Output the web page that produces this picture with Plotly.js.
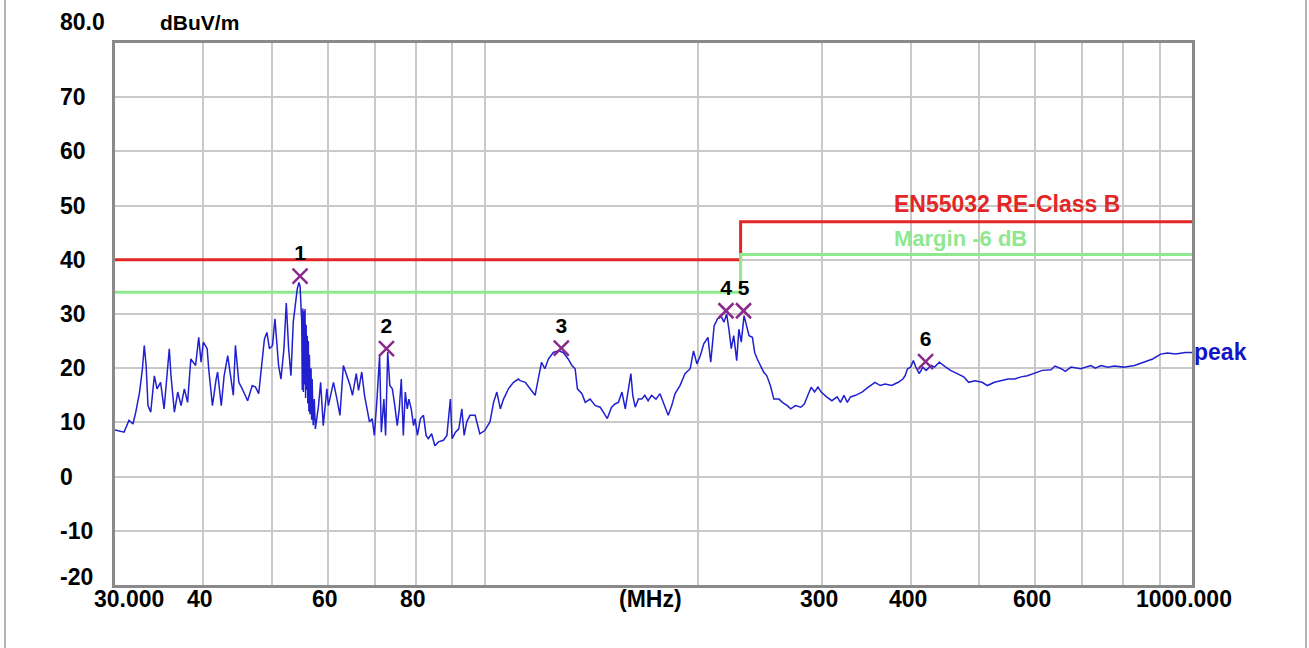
<!DOCTYPE html>
<html><head><meta charset="utf-8">
<script src="https://cdn.plot.ly/plotly-3.0.1.min.js"></script>
<style>html,body{margin:0;padding:0;background:#fff;}#chart{width:1309px;height:648px;}</style>
</head><body><div id="chart"></div>
<script>
// ---- data ----
const freqMHz = [30.0,30.2,30.9,31.4,31.8,32.1,32.5,32.8,33.0,33.2,33.4,33.7,34.1,34.4,34.8,35.2,35.5,35.8,36.0,36.4,36.8,37.2,37.6,38.0,38.4,39.0,39.4,39.7,40.0,40.5,40.7,41.2,41.7,41.9,42.4,42.8,43.3,43.8,44.1,44.4,44.9,45.4,46.2,46.9,47.4,47.9,48.4,48.8,49.2,49.6,50.1,50.5,51.1,51.5,52.0,52.4,52.8,53.2,53.6,54.0,54.3,54.6,54.8,
55.1,55.2,55.3,55.4,55.5,55.6,55.7,55.8,55.9,56.0,56.1,56.2,56.3,56.4,56.5,56.6,56.8,56.9,57.0,57.2,57.4,57.6,58.2,58.6,59.1,59.8,
60.1,60.8,61.1,61.8,62.4,63.1,63.8,64.5,65.0,65.8,66.3,67.0,67.6,68.2,68.7,69.3,69.8,70.4,71.0,71.4,72.0,72.4,72.9,73.4,74.0,74.5,75.2,75.7,76.2,76.7,77.2,77.7,78.1,78.7,79.3,79.7,80.3,81.1,81.9,82.6,83.2,84.1,85.0,86.0,87.4,88.4,89.4,89.9,90.9,91.9,92.8,93.5,94.3,95.3,96.9,98.4,100.0,101.7,102.9,104.0,105.2,106.3,108.0,109.8,111.6,
112.2,114.1,115.9,117.8,119.0,120.3,121.6,123.0,125.0,127.1,129.1,131.2,132.8,134.2,135.2,137.2,138.7,140.9,143.3,145.6,147.1,149.0,151.1,152.8,154.5,156.3,158.0,159.6,160.9,161.9,163.2,164.9,166.7,168.4,170.2,172.1,174.6,176.9,179.7,181.7,183.8,185.8,188.8,191.9,195.2,197.3,199.5,201.7,204.0,206.8,208.7,211.0,213.3,
215.6,217.9,219.8,221.4,223.1,224.9,227.1,228.7,230.5,232.6,234.6,236.4,239.0,240.8,242.8,245.4,247.9,250.5,253.4,256.3,260.6,263.5,267.8,270.7,275.0,279.8,283.0,286.3,289.4,292.6,295.9,299.0,304.3,309.6,314.9,318.4,322.0,325.5,329.0,334.4,341.5,348.6,356.3,362.3,368.2,376.2,384.2,390.1,392.9,396.1,400.0,403.7,406.9,411.5,416.2,420.8,427.8,432.4,439.3,
448.6,455.5,465.6,475.6,483.2,493.3,504.8,513.8,525.5,537.5,549.5,561.3,573.2,585.2,597.0,614.3,631.9,640.0,653.2,662.0,674.5,695.7,719.5,730.0,743.9,760.2,776.3,800.7,829.0,856.9,880.0,903.0,923.0,948.0,979.0,1000.0];
const peakLevel = [8.6,8.5,8.2,10.4,9.7,11.9,15.6,19.9,24.2,20.5,13.1,11.9,18.6,16.2,17.4,12.5,17.4,23.6,18.6,11.9,15.6,13.1,16.2,13.7,21.7,20.5,25.7,21.1,24.8,23.6,19.9,13.1,18.0,19.3,13.1,18.6,22.3,17.4,15.0,24.2,17.4,16.2,14.0,16.8,16.5,15.3,20.5,25.4,26.6,23.6,24.2,29.1,20.5,18.0,23.6,32.0,23.6,18.6,28.5,32.8,34.6,35.8,35.2,
28.5,16.0,31.0,15.6,30.5,17.0,30.9,14.5,28.0,16.0,26.0,13.5,25.0,12.0,22.5,11.5,20.0,10.5,18.0,9.5,14.3,8.8,13.1,17.4,9.4,16.2,
13.1,16.2,17.4,14.3,11.3,20.5,18.6,16.8,15.0,19.0,15.9,19.3,15.0,11.9,10.1,10.7,7.6,14.3,22.3,8.2,14.3,7.6,23.0,16.8,16.2,13.7,9.4,12.5,18.0,7.6,15.6,12.5,14.3,12.5,9.4,10.7,7.6,10.7,11.3,7.6,7.0,7.9,5.7,6.4,6.7,7.6,14.3,7.0,8.2,8.8,12.5,7.6,10.1,11.3,11.3,7.9,8.5,10.1,13.7,15.6,12.5,14.3,16.2,17.4,18.0,
17.7,17.4,16.2,15.0,18.0,21.1,19.9,21.7,22.9,23.2,22.9,21.7,20.5,19.9,16.2,15.3,13.7,14.3,13.1,12.8,11.9,10.7,12.8,13.4,13.7,15.6,12.5,16.2,19.0,15.0,12.8,14.3,14.3,15.0,14.0,15.0,14.3,15.3,13.1,11.3,13.1,15.3,16.8,19.0,19.9,23.2,20.8,22.3,24.5,25.7,21.1,27.8,29.1,
29.7,28.5,30.0,27.2,23.6,26.0,21.4,27.2,24.8,29.7,27.8,26.0,25.7,22.9,21.7,20.5,19.3,18.6,16.8,14.3,14.3,13.7,13.1,12.5,13.1,12.8,13.4,15.0,16.5,15.6,16.5,15.6,14.7,14.0,14.7,13.7,15.0,13.7,14.7,15.0,15.6,16.5,17.4,16.8,17.1,16.8,17.4,18.0,18.6,19.9,20.2,21.4,20.2,19.0,20.2,19.6,20.5,20.2,21.1,
20.2,19.6,19.0,18.4,17.4,17.7,17.4,16.8,17.4,17.7,18.0,18.0,18.4,18.6,19.0,19.6,19.7,20.4,19.9,19.4,20.2,19.9,20.5,20.0,20.5,20.2,20.4,20.2,20.5,21.1,21.7,22.6,22.8,22.6,22.9,22.9];

const limitFreq   = [30, 230, 230, 1000];
const limitLevel  = [40, 40, 47, 47];
const marginLevel = [34, 34, 41, 41];

const markerFreq  = [54.8, 72.6, 128.3, 219.3, 232.2, 420.0];
const markerLevel = [37.0, 23.6, 23.7, 30.6, 30.6, 21.2];
const markerLabel = ['1', '2', '3', '4', '5', '6'];

const yTickVals = [80, 70, 60, 50, 40, 30, 20, 10, 0, -10, -20];
const yTickText = ['80.0', '70', '60', '50', '40', '30', '20', '10', '0', '-10', '-20'];
const xGridVals = [30, 40, 50, 60, 70, 80, 90, 100, 200, 300, 400, 500, 600, 700, 800, 900, 1000];
const xLabelVals = [30, 40, 60, 80, 300, 400, 600, 1000];
const xLabelText = ['30.000', '40', '60', '80', '300', '400', '600', '1000.000'];

const limitName  = 'EN55032 RE-Class B';
const marginName = 'Margin -6 dB';
const traceName  = 'peak';
const xUnit = '(MHz)';
const yUnit = 'dBuV/m';

// ---- styling ----
const FONT = '"Liberation Sans", Arial, sans-serif';
const lblFont = {family: FONT, size: 23, color: '#000', weight: 'bold'};
const RED = '#e32626', GREEN = '#8fe88f', BLUE = '#2020d0', PURPLE = '#8a2a8a';

const traces = [
  {x: limitFreq, y: limitLevel, type: 'scatter', mode: 'lines', name: limitName,
   line: {color: RED, width: 3}, hoverinfo: 'skip'},
  {x: limitFreq, y: marginLevel, type: 'scatter', mode: 'lines', name: marginName,
   line: {color: GREEN, width: 3}, hoverinfo: 'skip'},
  {x: freqMHz, y: peakLevel, type: 'scatter', mode: 'lines', name: traceName,
   line: {color: BLUE, width: 1.5}},
  {x: markerFreq, y: markerLevel, type: 'scatter', mode: 'markers+text', text: markerLabel,
   textposition: 'top center', textfont: {family: FONT, size: 21, color: '#000', weight: 'bold'},
   marker: {symbol: 'x-thin-open', size: 15, color: PURPLE, line: {color: PURPLE, width: 2.5}}}
];

const L = 115, T = 43, W = 1309, H = 648, PW = 1077, PH = 542;
const annotations = [];
yTickVals.forEach((v, i) => {
  let ys = 0;
  if (i === 0) ys = 21;
  if (i === yTickVals.length - 1) ys = 8;
  annotations.push({xref: 'paper', x: (58 - L) / PW, xanchor: 'left', yref: 'y', y: v, yanchor: 'middle',
    yshift: ys, text: yTickText[i], showarrow: false, font: lblFont});
});
xLabelVals.forEach((v, i) => {
  const first = i === 0, last = i === xLabelVals.length - 1;
  annotations.push({xref: 'x', x: Math.log10(v), xanchor: first ? 'left' : 'center',
    xshift: first ? -23 : (last ? -8 : -3), yref: 'paper', y: 0, yanchor: 'middle', yshift: -14,
    text: xLabelText[i], showarrow: false, font: lblFont});
});
annotations.push({xref: 'paper', x: (650 - L) / PW, xanchor: 'center', yref: 'paper', y: 0, yanchor: 'middle',
  yshift: -14, text: xUnit, showarrow: false, font: lblFont});
annotations.push({xref: 'paper', x: (199 - L) / PW, xanchor: 'center', yref: 'y', y: yTickVals[0], yanchor: 'middle',
  yshift: 21, text: yUnit, showarrow: false, font: Object.assign({}, lblFont, {size: 21})});
annotations.push({xref: 'x', x: Math.log10(376), xanchor: 'left', yref: 'y', y: limitLevel[3], yanchor: 'middle',
  yshift: 18, text: limitName, showarrow: false, font: Object.assign({}, lblFont, {color: RED})});
annotations.push({xref: 'x', x: Math.log10(376), xanchor: 'left', yref: 'y', y: marginLevel[3], yanchor: 'middle',
  yshift: 16, text: marginName, showarrow: false, font: Object.assign({}, lblFont, {color: GREEN, size: 22})});
annotations.push({xref: 'paper', x: 1, xanchor: 'left', xshift: 0, yref: 'y', y: peakLevel[peakLevel.length - 1],
  yanchor: 'middle', text: traceName, showarrow: false, font: Object.assign({}, lblFont, {color: '#1414c8'})});

const layout = {
  width: W, height: H,
  margin: {l: L, r: W - L - PW, t: T, b: H - T - PH, pad: 0},
  paper_bgcolor: '#fff', plot_bgcolor: '#fff',
  showlegend: false,
  xaxis: {type: 'log', range: [Math.log10(30), Math.log10(1000)], tickmode: 'array', tickvals: xGridVals,
    showticklabels: false, ticks: '', showgrid: true, gridcolor: '#c9c9c9', gridwidth: 2,
    showline: true, linecolor: '#8a8a8a', linewidth: 3, mirror: true, zeroline: false, fixedrange: true},
  yaxis: {range: [-20, 80], tickmode: 'array', tickvals: yTickVals, showticklabels: false, ticks: '',
    showgrid: true, gridcolor: '#c9c9c9', gridwidth: 2, showline: true, linecolor: '#8a8a8a', linewidth: 3,
    mirror: true, zeroline: false, fixedrange: true},
  annotations: annotations,
  shapes: [
    {type: 'line', xref: 'paper', yref: 'paper', x0: (5 - L) / PW, x1: (5 - L) / PW, y0: -0.2, y1: 1.2,
     line: {color: '#b4b4b4', width: 2}},
    {type: 'line', xref: 'paper', yref: 'paper', x0: (1306 - L) / PW, x1: (1306 - L) / PW, y0: -0.2, y1: 1.2,
     line: {color: '#b4b4b4', width: 2}}
  ]
};

Plotly.newPlot('chart', traces, layout, {displayModeBar: false, staticPlot: true});
</script></body></html>
